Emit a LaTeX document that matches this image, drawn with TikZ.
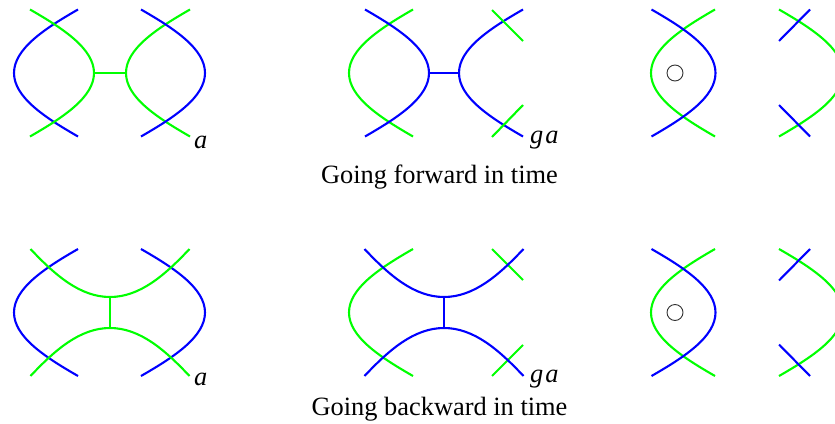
\documentclass[tikz,border=0pt]{standalone}
\usepackage{fontspec}
\setmainfont{Liberation Serif}
\usepackage{tikz}
\usetikzlibrary{positioning}
\definecolor{sheetblue}{RGB}{0,0,255}
\definecolor{sheetgreen}{RGB}{0,255,0}
\tikzset{
  % the two strands
  bluecurve/.style={line width=2.1pt, sheetblue},
  greencurve/.style={line width=2.1pt, sheetgreen},
  % marked point in the last panels
  hole/.style={circle, draw=black!80, line width=0.9pt, minimum size=16pt, inner sep=0pt},
  % texts
  caption/.style={font=\fontsize{26.4}{30}\selectfont, inner sep=0pt, anchor=base},
  tag/.style={font=\fontsize{26.4}{30}\selectfont\itshape, inner sep=0pt, anchor=base west},
}
% lobe with its tip at the origin, opening to the right
\def\lobepath{(64,-63.5) .. controls (30,-44) and (0,-24) .. (0,0)
  .. controls (0,24) and (30,44) .. (64,63.5)}
% hanging arc with its lowest point at the origin
\def\sagpath{(-79.5,-48) .. controls (-55,-22) and (-30,0) .. (0,0)
  .. controls (30,0) and (55,-22) .. (79.5,-48)}
\begin{document}
\begin{tikzpicture}[x=1pt, y=-1pt]
    \path[clip] (0,0) rectangle (835,423);
    % --- Forward, panel a ---
    \draw[bluecurve, shift={(14,73)}] \lobepath;
    \draw[greencurve, shift={(94,73)}, xscale=-1] \lobepath;
    \draw[greencurve, shift={(126,73)}] \lobepath;
    \draw[bluecurve, shift={(205,73)}, xscale=-1] \lobepath;
    \coordinate (fal) at (94,73);
    \coordinate (far) at (126,73);
    \draw[greencurve] (fal) -- (far);
    \node[tag] (tagfa) at (194,148) {a};
    % --- Forward, panel ga ---
    \draw[greencurve, shift={(349,73)}] \lobepath;
    \draw[bluecurve, shift={(429,73)}, xscale=-1] \lobepath;
    \draw[bluecurve, shift={(459,73)}] \lobepath;
    \draw[greencurve] (492,10) -- (523,41);
    \draw[greencurve] (492,137) -- (523,105);
    \coordinate (fgl) at (429,73);
    \coordinate (fgr) at (459,73);
    \draw[bluecurve] (fgl) -- (fgr);
    \node[tag] (tagfg) at (530,143) {g\kern2pt a};
    \node[caption] (capf) at (439.5,183) {Going forward in time};
    % --- Backward, panel a ---
    \draw[bluecurve, shift={(14,312.5)}] \lobepath;
    \draw[bluecurve, shift={(205,312.5)}, xscale=-1] \lobepath;
    \draw[greencurve, shift={(110,297)}] \sagpath;
    \draw[greencurve, shift={(110,328)}, yscale=-1] \sagpath;
    \coordinate (bat) at (110,297);
    \coordinate (bab) at (110,328);
    \draw[greencurve] (bat) -- (bab);
    \node[tag] (tagba) at (194,385) {a};
    % --- Backward, panel ga ---
    \draw[greencurve, shift={(349,312.5)}] \lobepath;
    \draw[greencurve] (492,249) -- (523,280);
    \draw[greencurve] (492,376) -- (523,345);
    \draw[bluecurve, shift={(444,297)}] \sagpath;
    \draw[bluecurve, shift={(444,328)}, yscale=-1] \sagpath;
    \coordinate (bgt) at (444,297);
    \coordinate (bgb) at (444,328);
    \draw[bluecurve] (bgt) -- (bgb);
    \node[tag] (tagbg) at (530,382) {g\kern2pt a};
    \node[caption] (capb) at (439.5,415.5) {Going backward in time};
    % --- Last panels, the same in both rows ---
    \foreach \rowy/\holename in {73/holef, 312.5/holeb}{
      \draw[greencurve, shift={(651,\rowy)}] \lobepath;
      \draw[bluecurve, shift={(715.5,\rowy)}, xscale=-1] \lobepath;
      \draw[greencurve, shift={(843,\rowy)}, xscale=-1] \lobepath;
      \draw[bluecurve] (779,\rowy-32) -- (810,\rowy-63.5);
      \draw[bluecurve] (779,\rowy+32) -- (810,\rowy+63.5);
      \node[hole] (\holename) at (675,\rowy) {};
    }
\end{tikzpicture}
\end{document}
